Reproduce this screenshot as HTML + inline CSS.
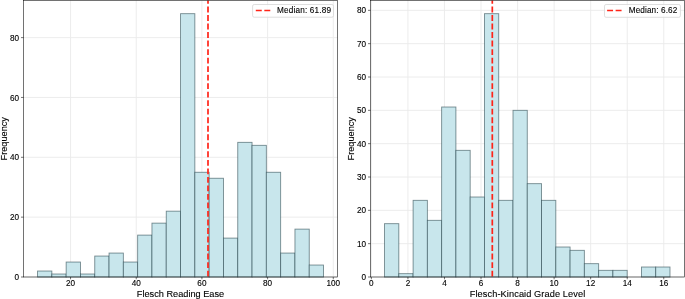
<!DOCTYPE html>
<html><head><meta charset="utf-8"><style>
html,body{margin:0;padding:0;background:#fff;width:685px;height:299px;overflow:hidden;}
svg{display:block;will-change:transform;font-family:"Liberation Sans", sans-serif;}
text{fill:#000000;stroke:#000000;stroke-width:0.12px;}
</style></head><body>
<svg width="685" height="299" viewBox="0 0 685 299">
<rect x="0" y="0" width="685" height="299" fill="#ffffff"/>
<line x1="70.56" y1="0.5" x2="70.56" y2="277.0" stroke="#eaeaea" stroke-width="0.9"/>
<line x1="136.24" y1="0.5" x2="136.24" y2="277.0" stroke="#eaeaea" stroke-width="0.9"/>
<line x1="201.92" y1="0.5" x2="201.92" y2="277.0" stroke="#eaeaea" stroke-width="0.9"/>
<line x1="267.60" y1="0.5" x2="267.60" y2="277.0" stroke="#eaeaea" stroke-width="0.9"/>
<line x1="333.28" y1="0.5" x2="333.28" y2="277.0" stroke="#eaeaea" stroke-width="0.9"/>
<line x1="23.5" y1="277.00" x2="337.5" y2="277.00" stroke="#eaeaea" stroke-width="0.9"/>
<line x1="23.5" y1="217.15" x2="337.5" y2="217.15" stroke="#eaeaea" stroke-width="0.9"/>
<line x1="23.5" y1="157.30" x2="337.5" y2="157.30" stroke="#eaeaea" stroke-width="0.9"/>
<line x1="23.5" y1="97.45" x2="337.5" y2="97.45" stroke="#eaeaea" stroke-width="0.9"/>
<line x1="23.5" y1="37.61" x2="337.5" y2="37.61" stroke="#eaeaea" stroke-width="0.9"/>
<rect x="37.55" y="271.02" width="14.30" height="5.98" fill="#c8e6ec" stroke="rgba(10,40,48,0.52)" stroke-width="0.9"/>
<rect x="51.85" y="274.01" width="14.30" height="2.99" fill="#c8e6ec" stroke="rgba(10,40,48,0.52)" stroke-width="0.9"/>
<rect x="66.15" y="262.04" width="14.30" height="14.96" fill="#c8e6ec" stroke="rgba(10,40,48,0.52)" stroke-width="0.9"/>
<rect x="80.45" y="274.01" width="14.30" height="2.99" fill="#c8e6ec" stroke="rgba(10,40,48,0.52)" stroke-width="0.9"/>
<rect x="94.75" y="256.05" width="14.30" height="20.95" fill="#c8e6ec" stroke="rgba(10,40,48,0.52)" stroke-width="0.9"/>
<rect x="109.05" y="253.06" width="14.30" height="23.94" fill="#c8e6ec" stroke="rgba(10,40,48,0.52)" stroke-width="0.9"/>
<rect x="123.35" y="262.04" width="14.30" height="14.96" fill="#c8e6ec" stroke="rgba(10,40,48,0.52)" stroke-width="0.9"/>
<rect x="137.65" y="235.11" width="14.30" height="41.89" fill="#c8e6ec" stroke="rgba(10,40,48,0.52)" stroke-width="0.9"/>
<rect x="151.95" y="223.14" width="14.30" height="53.86" fill="#c8e6ec" stroke="rgba(10,40,48,0.52)" stroke-width="0.9"/>
<rect x="166.25" y="211.17" width="14.30" height="65.83" fill="#c8e6ec" stroke="rgba(10,40,48,0.52)" stroke-width="0.9"/>
<rect x="180.55" y="13.67" width="14.30" height="263.33" fill="#c8e6ec" stroke="rgba(10,40,48,0.52)" stroke-width="0.9"/>
<rect x="194.85" y="172.27" width="14.30" height="104.73" fill="#c8e6ec" stroke="rgba(10,40,48,0.52)" stroke-width="0.9"/>
<rect x="209.15" y="178.25" width="14.30" height="98.75" fill="#c8e6ec" stroke="rgba(10,40,48,0.52)" stroke-width="0.9"/>
<rect x="223.45" y="238.10" width="14.30" height="38.90" fill="#c8e6ec" stroke="rgba(10,40,48,0.52)" stroke-width="0.9"/>
<rect x="237.75" y="142.34" width="14.30" height="134.66" fill="#c8e6ec" stroke="rgba(10,40,48,0.52)" stroke-width="0.9"/>
<rect x="252.05" y="145.33" width="14.30" height="131.67" fill="#c8e6ec" stroke="rgba(10,40,48,0.52)" stroke-width="0.9"/>
<rect x="266.35" y="172.27" width="14.30" height="104.73" fill="#c8e6ec" stroke="rgba(10,40,48,0.52)" stroke-width="0.9"/>
<rect x="280.65" y="253.06" width="14.30" height="23.94" fill="#c8e6ec" stroke="rgba(10,40,48,0.52)" stroke-width="0.9"/>
<rect x="294.95" y="229.12" width="14.30" height="47.88" fill="#c8e6ec" stroke="rgba(10,40,48,0.52)" stroke-width="0.9"/>
<rect x="309.25" y="265.03" width="14.30" height="11.97" fill="#c8e6ec" stroke="rgba(10,40,48,0.52)" stroke-width="0.9"/>
<line x1="208.00" y1="277.0" x2="208.00" y2="0.5" stroke="#ff2418" stroke-width="1.7" stroke-dasharray="5.85 2.67" stroke-dashoffset="-0.5"/>
<rect x="23.5" y="0.5" width="314.00" height="276.50" fill="none" stroke="#000000" stroke-width="0.55"/>
<line x1="70.56" y1="277.0" x2="70.56" y2="279.3" stroke="#000000" stroke-width="0.55"/>
<text x="70.56" y="286.4" font-size="8.2" text-anchor="middle">20</text>
<line x1="136.24" y1="277.0" x2="136.24" y2="279.3" stroke="#000000" stroke-width="0.55"/>
<text x="136.24" y="286.4" font-size="8.2" text-anchor="middle">40</text>
<line x1="201.92" y1="277.0" x2="201.92" y2="279.3" stroke="#000000" stroke-width="0.55"/>
<text x="201.92" y="286.4" font-size="8.2" text-anchor="middle">60</text>
<line x1="267.60" y1="277.0" x2="267.60" y2="279.3" stroke="#000000" stroke-width="0.55"/>
<text x="267.60" y="286.4" font-size="8.2" text-anchor="middle">80</text>
<line x1="333.28" y1="277.0" x2="333.28" y2="279.3" stroke="#000000" stroke-width="0.55"/>
<text x="333.28" y="286.4" font-size="8.2" text-anchor="middle">100</text>
<line x1="21.0" y1="277.00" x2="23.5" y2="277.00" stroke="#000000" stroke-width="0.55"/>
<text x="19.10" y="280.10" font-size="8.2" text-anchor="end">0</text>
<line x1="21.0" y1="217.15" x2="23.5" y2="217.15" stroke="#000000" stroke-width="0.55"/>
<text x="19.10" y="220.25" font-size="8.2" text-anchor="end">20</text>
<line x1="21.0" y1="157.30" x2="23.5" y2="157.30" stroke="#000000" stroke-width="0.55"/>
<text x="19.10" y="160.40" font-size="8.2" text-anchor="end">40</text>
<line x1="21.0" y1="97.45" x2="23.5" y2="97.45" stroke="#000000" stroke-width="0.55"/>
<text x="19.10" y="100.55" font-size="8.2" text-anchor="end">60</text>
<line x1="21.0" y1="37.61" x2="23.5" y2="37.61" stroke="#000000" stroke-width="0.55"/>
<text x="19.10" y="40.71" font-size="8.2" text-anchor="end">80</text>
<text x="180.50" y="297" font-size="9.2" text-anchor="middle">Flesch Reading Ease</text>
<text x="0" y="0" transform="translate(7.0,138.75) rotate(-90)" font-size="9.2" text-anchor="middle">Frequency</text>
<rect x="252.6" y="4.5" width="80.90" height="12.70" rx="1.6" fill="#ffffff" fill-opacity="0.8" stroke="#d6d6d6" stroke-width="0.8"/>
<line x1="255.80" y1="10.5" x2="270.70" y2="10.5" stroke="#ff2418" stroke-width="1.7" stroke-dasharray="5.95 2.57"/>
<text x="276.90" y="13.0" font-size="8.2" textLength="54.2" lengthAdjust="spacing">Median: 61.89</text>
<line x1="371.38" y1="0.5" x2="371.38" y2="277.0" stroke="#eaeaea" stroke-width="0.9"/>
<line x1="407.93" y1="0.5" x2="407.93" y2="277.0" stroke="#eaeaea" stroke-width="0.9"/>
<line x1="444.48" y1="0.5" x2="444.48" y2="277.0" stroke="#eaeaea" stroke-width="0.9"/>
<line x1="481.02" y1="0.5" x2="481.02" y2="277.0" stroke="#eaeaea" stroke-width="0.9"/>
<line x1="517.57" y1="0.5" x2="517.57" y2="277.0" stroke="#eaeaea" stroke-width="0.9"/>
<line x1="554.12" y1="0.5" x2="554.12" y2="277.0" stroke="#eaeaea" stroke-width="0.9"/>
<line x1="590.67" y1="0.5" x2="590.67" y2="277.0" stroke="#eaeaea" stroke-width="0.9"/>
<line x1="627.22" y1="0.5" x2="627.22" y2="277.0" stroke="#eaeaea" stroke-width="0.9"/>
<line x1="663.76" y1="0.5" x2="663.76" y2="277.0" stroke="#eaeaea" stroke-width="0.9"/>
<line x1="370.5" y1="277.00" x2="684.5" y2="277.00" stroke="#eaeaea" stroke-width="0.9"/>
<line x1="370.5" y1="243.67" x2="684.5" y2="243.67" stroke="#eaeaea" stroke-width="0.9"/>
<line x1="370.5" y1="210.33" x2="684.5" y2="210.33" stroke="#eaeaea" stroke-width="0.9"/>
<line x1="370.5" y1="177.00" x2="684.5" y2="177.00" stroke="#eaeaea" stroke-width="0.9"/>
<line x1="370.5" y1="143.67" x2="684.5" y2="143.67" stroke="#eaeaea" stroke-width="0.9"/>
<line x1="370.5" y1="110.33" x2="684.5" y2="110.33" stroke="#eaeaea" stroke-width="0.9"/>
<line x1="370.5" y1="77.00" x2="684.5" y2="77.00" stroke="#eaeaea" stroke-width="0.9"/>
<line x1="370.5" y1="43.67" x2="684.5" y2="43.67" stroke="#eaeaea" stroke-width="0.9"/>
<line x1="370.5" y1="10.33" x2="684.5" y2="10.33" stroke="#eaeaea" stroke-width="0.9"/>
<rect x="384.55" y="223.67" width="14.27" height="53.33" fill="#c8e6ec" stroke="rgba(10,40,48,0.52)" stroke-width="0.9"/>
<rect x="398.82" y="273.67" width="14.27" height="3.33" fill="#c8e6ec" stroke="rgba(10,40,48,0.52)" stroke-width="0.9"/>
<rect x="413.10" y="200.33" width="14.27" height="76.67" fill="#c8e6ec" stroke="rgba(10,40,48,0.52)" stroke-width="0.9"/>
<rect x="427.37" y="220.33" width="14.27" height="56.67" fill="#c8e6ec" stroke="rgba(10,40,48,0.52)" stroke-width="0.9"/>
<rect x="441.64" y="107.00" width="14.27" height="170.00" fill="#c8e6ec" stroke="rgba(10,40,48,0.52)" stroke-width="0.9"/>
<rect x="455.91" y="150.33" width="14.27" height="126.67" fill="#c8e6ec" stroke="rgba(10,40,48,0.52)" stroke-width="0.9"/>
<rect x="470.19" y="197.00" width="14.27" height="80.00" fill="#c8e6ec" stroke="rgba(10,40,48,0.52)" stroke-width="0.9"/>
<rect x="484.46" y="13.67" width="14.27" height="263.33" fill="#c8e6ec" stroke="rgba(10,40,48,0.52)" stroke-width="0.9"/>
<rect x="498.73" y="200.33" width="14.27" height="76.67" fill="#c8e6ec" stroke="rgba(10,40,48,0.52)" stroke-width="0.9"/>
<rect x="513.00" y="110.33" width="14.27" height="166.67" fill="#c8e6ec" stroke="rgba(10,40,48,0.52)" stroke-width="0.9"/>
<rect x="527.28" y="183.67" width="14.27" height="93.33" fill="#c8e6ec" stroke="rgba(10,40,48,0.52)" stroke-width="0.9"/>
<rect x="541.55" y="200.33" width="14.27" height="76.67" fill="#c8e6ec" stroke="rgba(10,40,48,0.52)" stroke-width="0.9"/>
<rect x="555.82" y="247.00" width="14.27" height="30.00" fill="#c8e6ec" stroke="rgba(10,40,48,0.52)" stroke-width="0.9"/>
<rect x="570.09" y="250.33" width="14.27" height="26.67" fill="#c8e6ec" stroke="rgba(10,40,48,0.52)" stroke-width="0.9"/>
<rect x="584.37" y="263.67" width="14.27" height="13.33" fill="#c8e6ec" stroke="rgba(10,40,48,0.52)" stroke-width="0.9"/>
<rect x="598.64" y="270.33" width="14.27" height="6.67" fill="#c8e6ec" stroke="rgba(10,40,48,0.52)" stroke-width="0.9"/>
<rect x="612.91" y="270.33" width="14.27" height="6.67" fill="#c8e6ec" stroke="rgba(10,40,48,0.52)" stroke-width="0.9"/>
<rect x="641.46" y="267.00" width="14.27" height="10.00" fill="#c8e6ec" stroke="rgba(10,40,48,0.52)" stroke-width="0.9"/>
<rect x="655.73" y="267.00" width="14.27" height="10.00" fill="#c8e6ec" stroke="rgba(10,40,48,0.52)" stroke-width="0.9"/>
<line x1="492.30" y1="277.0" x2="492.30" y2="0.5" stroke="#ff2418" stroke-width="1.7" stroke-dasharray="5.85 2.67" stroke-dashoffset="-0.5"/>
<rect x="370.5" y="0.5" width="314.00" height="276.50" fill="none" stroke="#000000" stroke-width="0.55"/>
<line x1="371.38" y1="277.0" x2="371.38" y2="279.3" stroke="#000000" stroke-width="0.55"/>
<text x="371.38" y="286.4" font-size="8.2" text-anchor="middle">0</text>
<line x1="407.93" y1="277.0" x2="407.93" y2="279.3" stroke="#000000" stroke-width="0.55"/>
<text x="407.93" y="286.4" font-size="8.2" text-anchor="middle">2</text>
<line x1="444.48" y1="277.0" x2="444.48" y2="279.3" stroke="#000000" stroke-width="0.55"/>
<text x="444.48" y="286.4" font-size="8.2" text-anchor="middle">4</text>
<line x1="481.02" y1="277.0" x2="481.02" y2="279.3" stroke="#000000" stroke-width="0.55"/>
<text x="481.02" y="286.4" font-size="8.2" text-anchor="middle">6</text>
<line x1="517.57" y1="277.0" x2="517.57" y2="279.3" stroke="#000000" stroke-width="0.55"/>
<text x="517.57" y="286.4" font-size="8.2" text-anchor="middle">8</text>
<line x1="554.12" y1="277.0" x2="554.12" y2="279.3" stroke="#000000" stroke-width="0.55"/>
<text x="554.12" y="286.4" font-size="8.2" text-anchor="middle">10</text>
<line x1="590.67" y1="277.0" x2="590.67" y2="279.3" stroke="#000000" stroke-width="0.55"/>
<text x="590.67" y="286.4" font-size="8.2" text-anchor="middle">12</text>
<line x1="627.22" y1="277.0" x2="627.22" y2="279.3" stroke="#000000" stroke-width="0.55"/>
<text x="627.22" y="286.4" font-size="8.2" text-anchor="middle">14</text>
<line x1="663.76" y1="277.0" x2="663.76" y2="279.3" stroke="#000000" stroke-width="0.55"/>
<text x="663.76" y="286.4" font-size="8.2" text-anchor="middle">16</text>
<line x1="368.0" y1="277.00" x2="370.5" y2="277.00" stroke="#000000" stroke-width="0.55"/>
<text x="366.10" y="280.10" font-size="8.2" text-anchor="end">0</text>
<line x1="368.0" y1="243.67" x2="370.5" y2="243.67" stroke="#000000" stroke-width="0.55"/>
<text x="366.10" y="246.77" font-size="8.2" text-anchor="end">10</text>
<line x1="368.0" y1="210.33" x2="370.5" y2="210.33" stroke="#000000" stroke-width="0.55"/>
<text x="366.10" y="213.43" font-size="8.2" text-anchor="end">20</text>
<line x1="368.0" y1="177.00" x2="370.5" y2="177.00" stroke="#000000" stroke-width="0.55"/>
<text x="366.10" y="180.10" font-size="8.2" text-anchor="end">30</text>
<line x1="368.0" y1="143.67" x2="370.5" y2="143.67" stroke="#000000" stroke-width="0.55"/>
<text x="366.10" y="146.77" font-size="8.2" text-anchor="end">40</text>
<line x1="368.0" y1="110.33" x2="370.5" y2="110.33" stroke="#000000" stroke-width="0.55"/>
<text x="366.10" y="113.43" font-size="8.2" text-anchor="end">50</text>
<line x1="368.0" y1="77.00" x2="370.5" y2="77.00" stroke="#000000" stroke-width="0.55"/>
<text x="366.10" y="80.10" font-size="8.2" text-anchor="end">60</text>
<line x1="368.0" y1="43.67" x2="370.5" y2="43.67" stroke="#000000" stroke-width="0.55"/>
<text x="366.10" y="46.77" font-size="8.2" text-anchor="end">70</text>
<line x1="368.0" y1="10.33" x2="370.5" y2="10.33" stroke="#000000" stroke-width="0.55"/>
<text x="366.10" y="13.43" font-size="8.2" text-anchor="end">80</text>
<text x="527.50" y="297" font-size="9.2" text-anchor="middle" textLength="115.5" lengthAdjust="spacing">Flesch-Kincaid Grade Level</text>
<text x="0" y="0" transform="translate(354.0,138.75) rotate(-90)" font-size="9.2" text-anchor="middle">Frequency</text>
<rect x="604.5" y="4.5" width="75.90" height="12.80" rx="1.6" fill="#ffffff" fill-opacity="0.8" stroke="#d6d6d6" stroke-width="0.8"/>
<line x1="607.10" y1="10.5" x2="622.00" y2="10.5" stroke="#ff2418" stroke-width="1.7" stroke-dasharray="5.95 2.57"/>
<text x="628.70" y="13.0" font-size="8.2" textLength="48.6" lengthAdjust="spacing">Median: 6.62</text>
</svg>
</body></html>
